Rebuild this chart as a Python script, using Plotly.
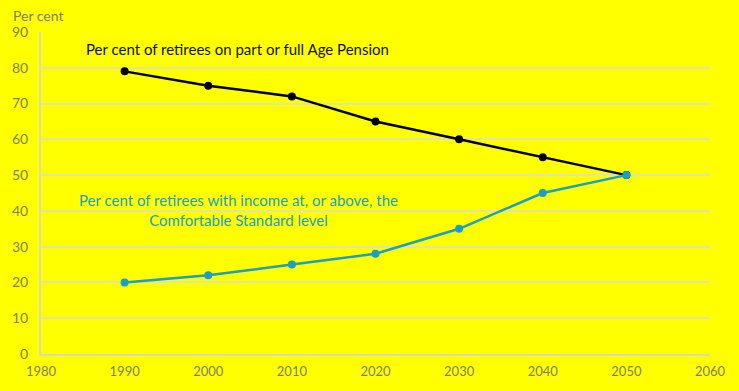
import plotly.graph_objects as go

years = [1990, 2000, 2010, 2020, 2030, 2040, 2050]
age_pension = [79, 75, 72, 65, 60, 55, 50]
comfortable = [20, 22, 25, 28, 35, 45, 50]
x_ticks = [1980, 1990, 2000, 2010, 2020, 2030, 2040, 2050, 2060]
y_ticks = [0, 10, 20, 30, 40, 50, 60, 70, 80, 90]

BG = "#FFFF00"
BLUE = "#1A9FC6"
TICK = "#7F7F5A"
FONT = "Lato, Open Sans, sans-serif"

fig = go.Figure()
fig.add_trace(go.Scatter(x=years, y=age_pension, mode="lines+markers",
                         line=dict(color="black", width=2.5),
                         marker=dict(color="black", size=8), showlegend=False))
fig.add_trace(go.Scatter(x=years, y=comfortable, mode="lines+markers",
                         line=dict(color=BLUE, width=2.5),
                         marker=dict(color=BLUE, size=8), showlegend=False))

fig.add_annotation(x=1985.2, y=85.3, xref="x", yref="y", xanchor="left", yanchor="middle",
                   text="Per cent of retirees on part or full Age Pension", showarrow=False,
                   font=dict(family=FONT, size=15, color="#111111"))
fig.add_annotation(x=2003.6, y=40.2, xref="x", yref="y", xanchor="center", yanchor="middle",
                   text="Per cent of retirees with income at, or above, the<br>Comfortable Standard level",
                   showarrow=False, align="center",
                   font=dict(family=FONT, size=15, color=BLUE))
fig.add_annotation(x=0, y=1, xref="paper", yref="paper", xshift=-30, yshift=6,
                   xanchor="left", yanchor="bottom", text="Per cent", showarrow=False,
                   font=dict(family=FONT, size=14, color=TICK))

fig.update_layout(
    width=739, height=391, autosize=False,
    paper_bgcolor=BG, plot_bgcolor=BG,
    margin=dict(l=38, r=29, t=32, b=37),
    font=dict(family=FONT, size=13, color=TICK),
    xaxis=dict(range=[1980, 2060], tickvals=x_ticks, showgrid=False, zeroline=False,
               showline=True, linecolor="#D9D9C0", linewidth=2, ticks="",
               ticklabelstandoff=4, tickfont=dict(size=13, color=TICK)),
    yaxis=dict(range=[0, 90], tickvals=y_ticks, showgrid=True, gridcolor="#E3E3A8",
               gridwidth=2, zeroline=False, showline=True, linecolor="#D9D9C0",
               linewidth=2, ticks="", ticklabelstandoff=8, tickfont=dict(size=14, color=TICK)),
)
fig.write_html("out.html", config={"displayModeBar": False},
               post_script="document.body.style.margin='0';document.body.style.overflow='hidden';")
